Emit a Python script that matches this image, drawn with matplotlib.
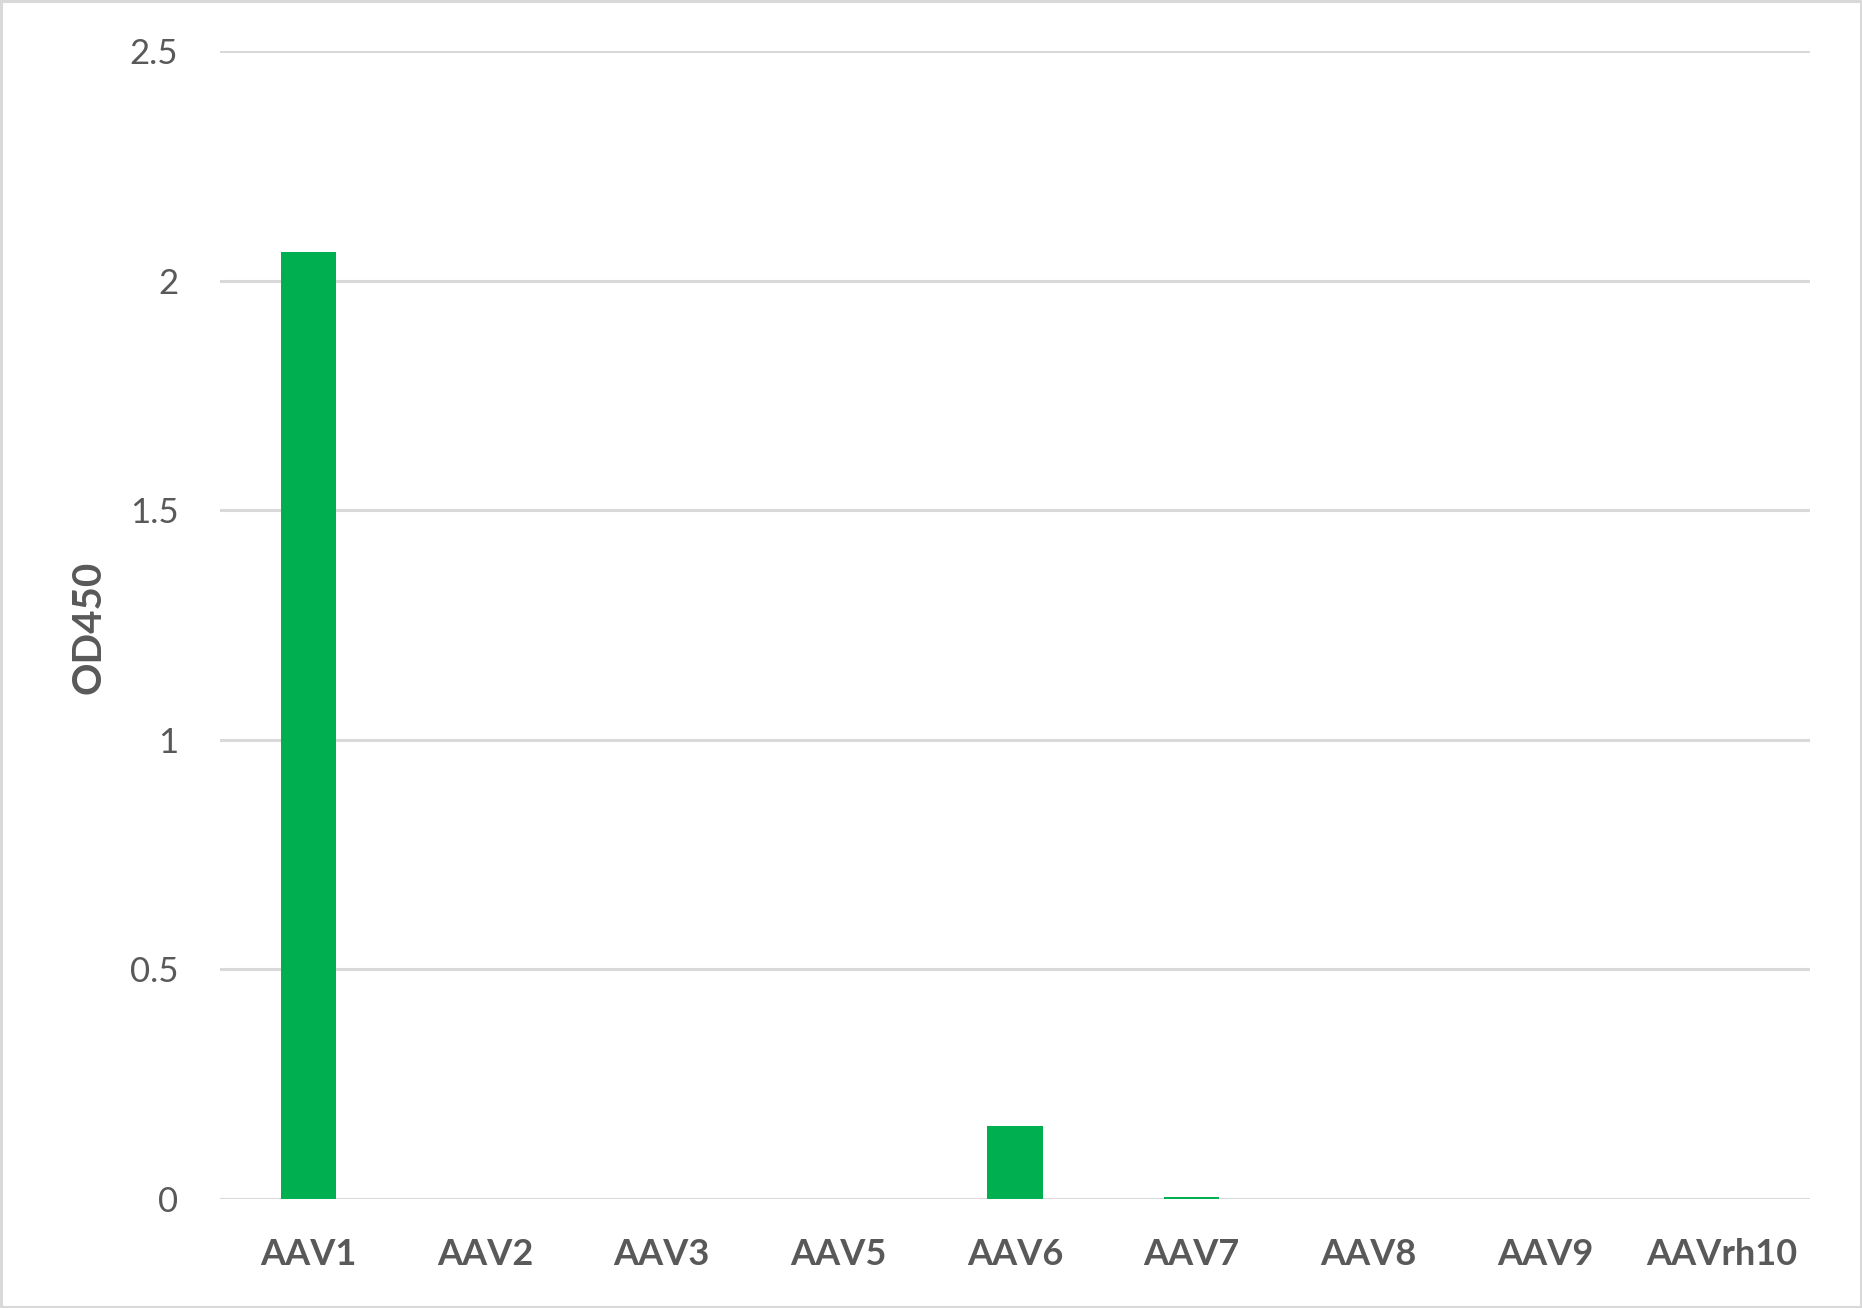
import matplotlib
matplotlib.use("Agg")
import matplotlib.pyplot as plt
from matplotlib.patches import Rectangle

categories = ["AAV1", "AAV2", "AAV3", "AAV5", "AAV6", "AAV7", "AAV8", "AAV9", "AAVrh10"]
od450 = [2.062, 0.0, 0.0, 0.0, 0.159, 0.004, 0.0, 0.0, 0.0]
yticks = [0, 0.5, 1, 1.5, 2, 2.5]
ytick_labels = ["0", "0.5", "1", "1.5", "2", "2.5"]

W, H = 1862, 1308
fig = plt.figure(figsize=(W / 100, H / 100), dpi=100)
ax = fig.add_axes([220 / W, (H - 1199) / H, 1590 / W, 1148 / H])

x = list(range(len(categories)))
ax.bar(x, od450, width=0.313, color="#00B050", zorder=3)

ax.set_xlim(-0.5, len(categories) - 0.5)
ax.set_ylim(0, 2.5)
ax.set_yticks(yticks)
ax.set_yticklabels(ytick_labels, family="Lato", fontsize=25, color="#595959")
ax.set_xticks(x)
ax.set_xticklabels(categories, family="Lato", fontweight="bold", fontsize=26, color="#595959")
ax.tick_params(axis="y", length=0, pad=30)
ax.tick_params(axis="x", length=0, pad=28)
ax.grid(axis="y", color="#D9D9D9", linewidth=2.2, zorder=0)
ax.set_axisbelow(True)
for s in ax.spines.values():
    s.set_visible(False)

ax.set_ylabel("OD450", family="Lato", fontweight="bold", fontsize=29, color="#595959", labelpad=0)
ax.yaxis.set_label_coords((107 - 220) / 1590, (1199 - 627) / 1148)

fig.patches.append(Rectangle((0.0008, 0.0011), 0.9984, 0.9978, transform=fig.transFigure,
                             fill=False, edgecolor="#D9D9D9", linewidth=2.2))

fig.savefig("out.png", dpi=100, facecolor="white")
